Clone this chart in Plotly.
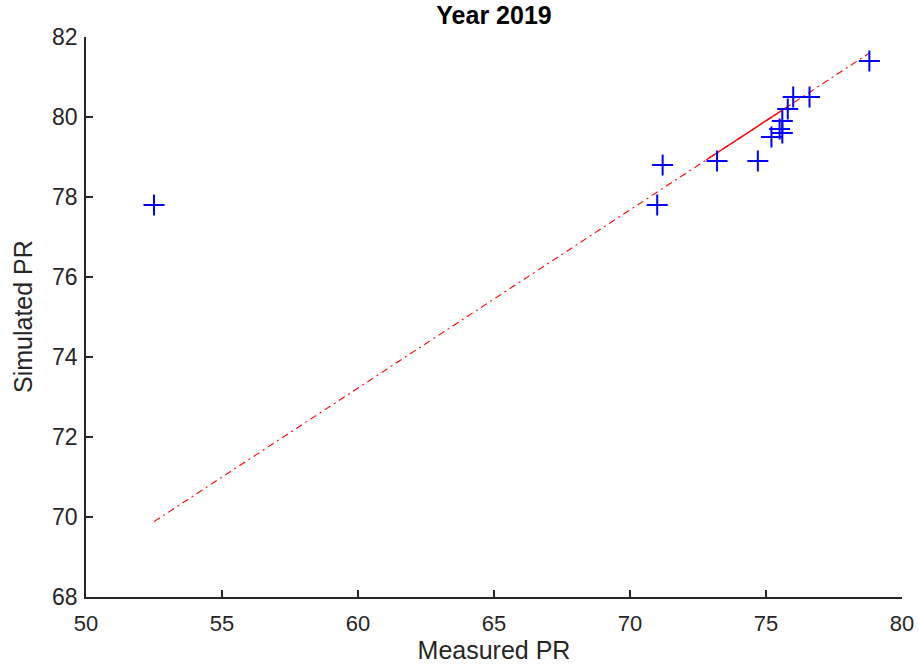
import plotly.graph_objects as go

# Measured vs simulated performance ratio (%), year 2019
measured_pr = [52.5, 71.0, 71.2, 73.2, 74.7, 75.2, 75.5, 75.6, 75.6, 75.8, 76.0, 76.6, 78.8]
simulated_pr = [77.8, 77.8, 78.8, 78.9, 78.9, 79.5, 79.7, 79.6, 79.9, 80.2, 80.5, 80.5, 81.4]

# Fitted trend line coefficients: y = slope * x + intercept
fit_slope = 0.4454
fit_intercept = 46.5

x_ticks = [50, 55, 60, 65, 70, 75, 80]
y_ticks = [68, 70, 72, 74, 76, 78, 80, 82]

axis_col = "#262626"
font_family = "Liberation Sans, Arial, Helvetica, sans-serif"

x_lo, x_hi = min(measured_pr), max(measured_pr)
fit_x = [x_lo, x_hi]
fit_y = [fit_slope * v + fit_intercept for v in fit_x]

# dense cluster where the overlapping trend segments render solid
cluster = [v for v in measured_pr if 72 <= v <= 75.9]
seg_x = [min(cluster) - 0.4, max(cluster)]
seg_y = [fit_slope * v + fit_intercept for v in seg_x]

fig = go.Figure()
fig.add_trace(go.Scatter(
    x=fit_x, y=fit_y, mode="lines",
    line=dict(color="red", width=1.1, dash="7px,4px,2px,4px"),
    showlegend=False, hoverinfo="skip"))
fig.add_trace(go.Scatter(
    x=seg_x, y=seg_y, mode="lines",
    line=dict(color="red", width=1.4),
    showlegend=False, hoverinfo="skip"))
fig.add_trace(go.Scatter(
    x=measured_pr, y=simulated_pr, mode="markers",
    marker=dict(symbol="cross-thin", size=15, line=dict(color="blue", width=2)),
    showlegend=False))

fig.update_layout(
    width=919, height=666,
    margin=dict(l=86, r=17, t=37, b=69, autoexpand=False),
    paper_bgcolor="white", plot_bgcolor="white",
    font=dict(family=font_family, color=axis_col),
    title=dict(text="<b>Year 2019</b>", x=0.5, xanchor="center", xref="paper",
               y=1, yref="container", yanchor="top", pad=dict(t=6),
               font=dict(size=25, color="black", family=font_family)),
)
fig.update_xaxes(
    range=[50, 80], tickvals=x_ticks, ticktext=[str(v) for v in x_ticks],
    showline=True, linecolor=axis_col, linewidth=1.5, mirror=False,
    ticks="inside", ticklen=7, tickwidth=1.5, tickcolor=axis_col,
    showgrid=False, zeroline=False, ticklabelstandoff=6, automargin=False,
    tickfont=dict(size=22, color=axis_col),
    title=dict(text="Measured PR", font=dict(size=25, color=axis_col), standoff=4),
)
fig.update_yaxes(
    range=[68, 82], tickvals=y_ticks, ticktext=[str(v) for v in y_ticks],
    showline=True, linecolor=axis_col, linewidth=1.5, mirror=False,
    ticks="inside", ticklen=7, tickwidth=1.5, tickcolor=axis_col,
    showgrid=False, zeroline=False, ticklabelstandoff=2, automargin=False,
    tickfont=dict(size=23, color=axis_col),
)
# y-axis title placed as a rotated annotation left of the tick labels
fig.add_annotation(
    text="Simulated PR", textangle=-90, showarrow=False,
    xref="paper", yref="paper", x=0, y=0.5, xanchor="center", yanchor="middle",
    xshift=-63, font=dict(size=25, color=axis_col, family=font_family))

fig.write_html("out.html")
